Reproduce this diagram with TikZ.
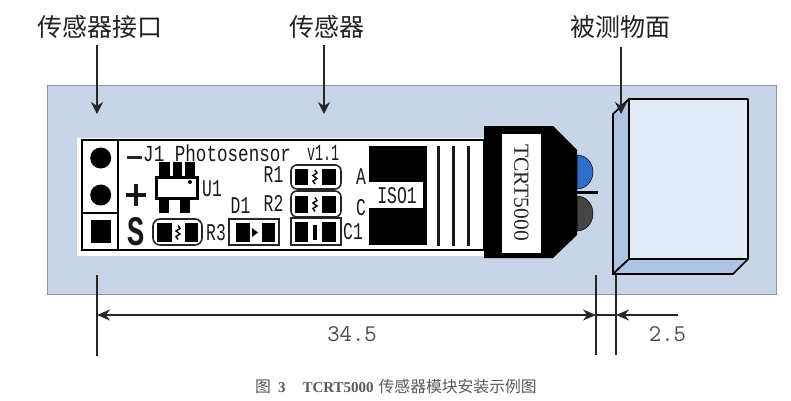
\documentclass[tikz,border=0pt]{standalone}
\usepackage{fontspec}
\usetikzlibrary{arrows.meta}
\newfontfamily\cjk{Noto Sans CJK SC}
\newfontfamily\pcbfont[FakeStretch=0.68]{Liberation Mono}
\newfontfamily\pcbwide[FakeStretch=0.765]{Liberation Mono}
\newfontfamily\pcbthin[FakeStretch=0.58]{Liberation Mono}
\newfontfamily\capserif{Liberation Serif}
\newfontfamily\dimfont{Latin Modern Mono}
\definecolor{panelblue}{HTML}{C7D5E6}
\definecolor{panelline}{HTML}{8E959C}
\definecolor{frontface}{HTML}{E3EBF6}
\definecolor{sideface}{HTML}{AEC4E2}
\definecolor{ledblue}{HTML}{2F6FC8}
\definecolor{ledgray}{HTML}{454545}
\definecolor{inktext}{HTML}{222222}
\tikzset{
  leader/.style={line width=1.4pt,draw=black!85,-{Stealth[length=12pt,width=12pt]}},
  dimline/.style={line width=1.4pt,draw=black!85},
  dimboth/.style={dimline,{Stealth[length=13pt,width=11pt]}-{Stealth[length=13pt,width=11pt]}},
  dimone/.style={dimline,-{Stealth[length=13pt,width=11pt]}},
  toplabel/.style={font=\cjk\fontsize{25}{25}\selectfont,text=inktext,inner sep=0pt},
  dimtext/.style={font=\dimfont\fontsize{24}{24}\selectfont,text=black!70,inner sep=0pt},
  pcbtext/.style={font=\pcbfont\fontsize{24}{24}\selectfont,inner sep=0pt,text=black!90},
  pad/.style={fill=black,draw=none},
  edgebox/.style={line width=1.6pt,draw=black!85},
  boxface/.style={line width=1.7pt,draw=black,line join=round},
}
\newcommand{\squig}[2]{\draw[line width=1.4pt,black] (#1,#2-7) -- (#1+2,#2-4) -- (#1-2,#2-1.5) -- (#1+2,#2+1.5) -- (#1-2,#2+4) -- (#1,#2+7);}
\begin{document}
\begin{tikzpicture}[x=1pt,y=-1pt]
\useasboundingbox (0,0) rectangle (791,400);
\fill[white] (0,0) rectangle (791,400);
% panel
\draw[fill=panelblue,draw=panelline,line width=0.7pt] (47,85) rectangle (776,294);
% pcb
\fill[white] (77,138) rectangle (486,256);
\draw[line width=2.4pt,black] (82,140) rectangle (484,250);
\draw[line width=2.4pt,black] (118,140) -- (118,250);
\draw[line width=2.4pt,black] (82,213) -- (118,213);
\fill[black] (100.7,158) circle (10.5);
\fill[black] (100.7,195) circle (10.5);
\fill[black] (90.7,220) rectangle (110.7,243);
% silk
\fill[black!85] (127,155.5) rectangle (142,158.5);
\node[pcbtext,anchor=base west,font=\pcbwide\fontsize{23}{23}\selectfont] (title) at (143,161) {J1 Photosensor};
\node[pcbtext,anchor=base west,font=\pcbthin\fontsize{23}{23}\selectfont] (ver) at (307,160) {v1.1};
\fill[black!90] (133.5,184) rectangle (137.5,206);
\fill[black!90] (126,193) rectangle (146,197);
\node[pcbtext,font=\pcbfont\bfseries\fontsize{42}{42}\selectfont] (sign) at (136,232) {S};
% U1
\fill[pad] (159,162) rectangle (170,178);
\fill[pad] (173,162) rectangle (182,178);
\fill[pad] (185,162) rectangle (195,178);
\fill[pad] (159,198) rectangle (169,213);
\fill[pad] (180,198) rectangle (190,213);
\draw[line width=3pt,black,fill=white] (156,177) rectangle (197,198);
\fill[black] (190,182) circle (2);
\node[pcbtext] (u1) at (212,188.5) {U1};
% R3
\fill[pad] (157,223) rectangle (172,242);
\fill[pad] (185,223) rectangle (198,242);
\squig{178}{232.5}
\draw[edgebox,rounded corners=7pt] (153,219) rectangle (202,245);
\node[pcbtext] (r3) at (216,233) {R3};
% D1
\fill[pad] (236,223) rectangle (250,242);
\fill[pad] (262,223) rectangle (275,242);
\fill[black] (252,228) -- (258,232.5) -- (252,237) -- cycle;
\draw[edgebox] (229,219) rectangle (279,245);
\node[pcbtext] (d1) at (240.5,206) {D1};
% R1
\fill[pad] (295,169) rectangle (308,185);
\fill[pad] (322,169) rectangle (336,185);
\squig{315}{177}
\draw[edgebox,rounded corners=6pt] (291,165) rectangle (341,189);
\node[pcbtext] (r1) at (273.5,175) {R1};
% R2
\fill[pad] (295,196) rectangle (308,213);
\fill[pad] (322,196) rectangle (336,213);
\squig{315}{204.5}
\draw[edgebox,rounded corners=6pt] (291,191) rectangle (341,217);
\node[pcbtext] (r2) at (273.5,203) {R2};
% C1
\fill[pad] (295,222) rectangle (308,242);
\fill[pad] (322,222) rectangle (336,242);
\fill[black] (313,225) rectangle (317,240);
\draw[edgebox] (291,218) rectangle (341,245);
\node[pcbtext] (c1) at (353,232) {C1};
\node[pcbtext] (pa) at (361,177) {A};
\node[pcbtext] (pc) at (361,208) {C};
% ISO1
\fill[black] (369,146) rectangle (427,245);
\fill[white] (367,182) rectangle (423,208);
\node[pcbtext] (iso) at (397,196) {ISO1};
\draw[line width=3pt,black!90] (438,146) -- (438,246);
\draw[line width=3pt,black!90] (453,146) -- (453,246);
\draw[line width=3pt,black!90] (468,146) -- (468,246);
% LEDs
\draw[fill=ledblue,draw=black,line width=0.5pt] (577,155) arc[start angle=-90,end angle=90,x radius=16,y radius=17] -- cycle;
\draw[fill=ledgray,draw=black,line width=0.5pt] (577,196) arc[start angle=-90,end angle=90,x radius=16,y radius=17.5] -- cycle;
\draw[line width=3pt,black] (575,192) -- (598,192);
% sensor head
\fill[black] (484,126) -- (553,126) -- (577,150) -- (577,235) -- (553,258) -- (484,258) -- cycle;
\fill[white] (502,134) rectangle (541,253);
\node[rotate=-90,inner sep=0pt,font=\capserif\fontsize{21.5}{21.5}\selectfont,text=black!85] (tcrt) at (521.5,192.5) {TCRT5000};
% object
\draw[boxface,fill=sideface] (613,114) -- (629,99) -- (629,259) -- (613,274) -- cycle;
\draw[boxface,fill=sideface] (613,274) -- (733,274) -- (748,259) -- (629,259) -- cycle;
\draw[boxface,fill=frontface] (629,99) rectangle (748,259);
% top labels and leaders
\node[toplabel] (lblport) at (100,27) {传感器接口};
\node[toplabel] (lblsens) at (327,27) {传感器};
\node[toplabel] (lblobj) at (620,27) {被测物面};
\coordinate (portA) at (97,45);
\coordinate (portB) at (97,114);
\coordinate (sensA) at (324,45);
\coordinate (sensB) at (324,114);
\coordinate (objA) at (621,47);
\coordinate (objB) at (621,114);
\draw[leader] (portA) -- (portB);
\draw[leader] (sensA) -- (sensB);
\draw[leader] (objA) -- (objB);
% dimensions
\coordinate (extLa) at (97,275);
\coordinate (extLb) at (97,356);
\coordinate (extMa) at (596,275);
\coordinate (extMb) at (596,355);
\coordinate (extRa) at (616,274);
\coordinate (extRb) at (616,355);
\coordinate (dimL) at (97,315);
\coordinate (dimM) at (596,315);
\coordinate (dimR) at (616,315);
\coordinate (dimE) at (678,315);
\draw[dimline] (extLa) -- (extLb);
\draw[dimline] (extMa) -- (extMb);
\draw[dimline] (extRa) -- (extRb);
\draw[dimboth] (dimL) -- (dimM);
\draw[dimline] (dimM) -- (dimR);
\draw[dimone] (dimE) -- (dimR);
\node[dimtext] (d345) at (352,334) {34.5};
\node[dimtext] (d25) at (667.5,334) {2.5};
% caption
\node[inner sep=0pt,anchor=west,text=black!65] (cap) at (255,386.5) {\fontsize{15.8}{16}\cjk 图\hspace{7pt}\fontsize{15}{16}\capserif\bfseries 3\hspace{17pt}TCRT5000\hspace{5pt}\fontsize{15.8}{16}\cjk\mdseries 传感器模块安装示例图};
\end{tikzpicture}
\end{document}
